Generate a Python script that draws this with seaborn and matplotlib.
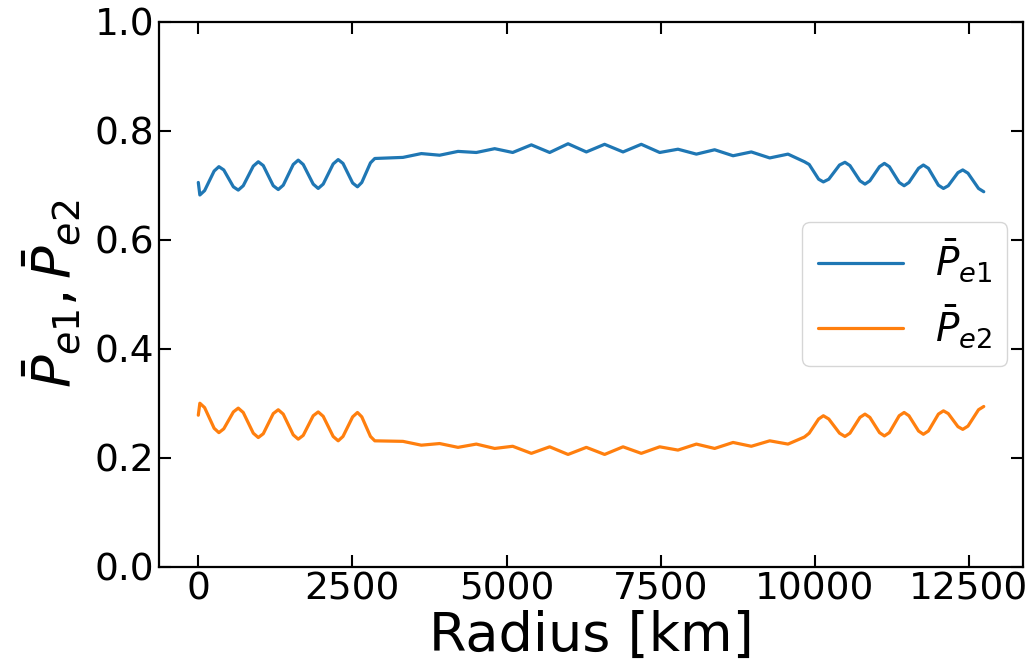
import matplotlib
matplotlib.use("Agg")
import matplotlib.pyplot as plt
import seaborn as sns
import pandas as pd

# ---- data ----
radius_km = [
    0, 25, 102, 257, 334, 413, 569, 648, 729, 892, 973, 1054, 1216, 1297, 1378,
    1540, 1621, 1702, 1864, 1945, 2026, 2188, 2269, 2347, 2504, 2582, 2652, 2793, 2863,
    3320, 3618, 3915, 4213, 4510, 4808, 5100, 5403, 5700, 5998, 6295, 6591, 6890,
    7186, 7485, 7781, 8080, 8376, 8675, 8971, 9270, 9566, 9833,
    9910, 10063, 10140, 10228, 10402, 10490, 10571, 10734, 10815, 10894, 11051,
    11130, 11210, 11370, 11450, 11528, 11684, 11762, 11844, 12006, 12088, 12166,
    12323, 12401, 12486, 12657, 12742,
]

pe1 = [
    0.705, 0.682, 0.690, 0.726, 0.734, 0.728, 0.697, 0.691, 0.699, 0.735, 0.743,
    0.736, 0.699, 0.692, 0.700, 0.738, 0.746, 0.738, 0.702, 0.694, 0.702, 0.739,
    0.747, 0.740, 0.704, 0.697, 0.705, 0.741, 0.749,
    0.751, 0.758, 0.755, 0.762, 0.760, 0.767, 0.760, 0.774, 0.760, 0.776, 0.761,
    0.775, 0.761, 0.775, 0.760, 0.766, 0.757, 0.765, 0.754, 0.761, 0.750, 0.757, 0.743,
    0.738, 0.711, 0.706, 0.711, 0.737, 0.742, 0.736, 0.708, 0.702, 0.708, 0.734,
    0.740, 0.734, 0.705, 0.699, 0.705, 0.731, 0.737, 0.731, 0.700, 0.694, 0.699,
    0.723, 0.728, 0.722, 0.694, 0.688,
]

pe2 = [
    0.278, 0.300, 0.292, 0.254, 0.246, 0.253, 0.284, 0.291, 0.283, 0.245, 0.237,
    0.244, 0.281, 0.288, 0.280, 0.242, 0.234, 0.241, 0.277, 0.284, 0.276, 0.239,
    0.231, 0.239, 0.275, 0.283, 0.275, 0.239, 0.231,
    0.230, 0.223, 0.226, 0.219, 0.225, 0.217, 0.221, 0.208, 0.220, 0.206, 0.219,
    0.206, 0.220, 0.208, 0.220, 0.214, 0.225, 0.217, 0.228, 0.221, 0.231, 0.225, 0.238,
    0.245, 0.271, 0.277, 0.271, 0.245, 0.239, 0.245, 0.274, 0.280, 0.274, 0.246,
    0.240, 0.246, 0.277, 0.283, 0.277, 0.249, 0.243, 0.249, 0.280, 0.286, 0.281,
    0.257, 0.252, 0.258, 0.288, 0.294,
]

series_labels = [r"$\bar{P}_{e1}$", r"$\bar{P}_{e2}$"]
series_colors = ["#1f77b4", "#ff7f0e"]
x_ticks = [0, 2500, 5000, 7500, 10000, 12500]
y_ticks = [0.0, 0.2, 0.4, 0.6, 0.8, 1.0]

df = pd.concat([
    pd.DataFrame({"Radius": radius_km, "P": pe1, "series": series_labels[0]}),
    pd.DataFrame({"Radius": radius_km, "P": pe2, "series": series_labels[1]}),
], ignore_index=True)

sns.set_style("ticks")
plt.rcParams["font.family"] = ["DejaVu Sans"]
plt.rcParams["mathtext.fontset"] = "dejavusans"
plt.rcParams["axes.labelcolor"] = "black"
plt.rcParams["text.color"] = "black"

fig = plt.figure(figsize=(10.34, 6.71), dpi=100)
ax = fig.add_axes([0.1538, 0.1554, 0.8356, 0.8123])

sns.lineplot(data=df, x="Radius", y="P", hue="series", palette=series_colors,
             sort=False, estimator=None, linewidth=2.3, ax=ax)

ax.set_ylim(0, 1.0)
ax.set_xticks(x_ticks)
ax.set_yticks(y_ticks)
ax.set_xlabel("Radius [km]", fontsize=39, labelpad=2, color="black")
ax.set_ylabel(r"$\bar{P}_{e1}, \bar{P}_{e2}$", fontsize=39, labelpad=8, color="black")
ax.tick_params(axis="both", which="both", direction="in", top=True, right=True,
               labelsize=27, length=8.5, width=1.5, colors="black")
for sp in ax.spines.values():
    sp.set_visible(True)
    sp.set_linewidth(1.6)
    sp.set_color("black")

leg = ax.legend(loc="center right", fontsize=28, frameon=True, handlelength=2.2,
                borderaxespad=0.4)
leg.set_title(None)
for line in leg.get_lines():
    line.set_linewidth(2.3)
for t in leg.get_texts():
    t.set_color("black")

fig.savefig("out.png", dpi=100)
